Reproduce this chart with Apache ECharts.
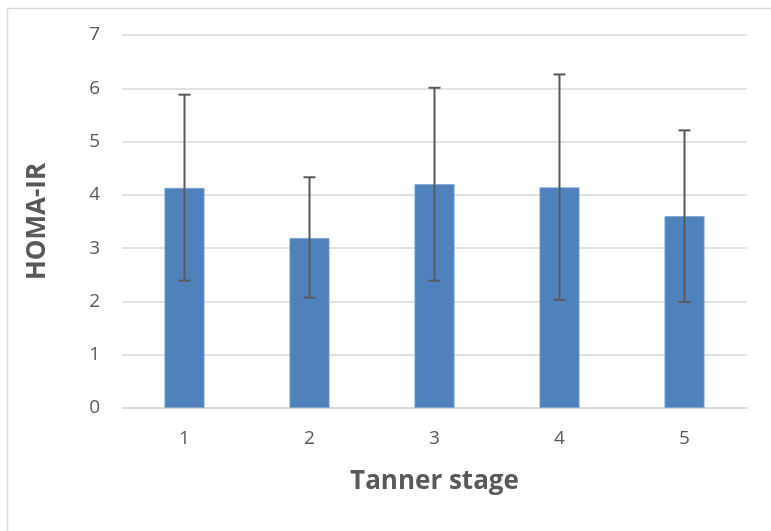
<!DOCTYPE html>
<html>
<head>
<meta charset="utf-8">
<script src="https://cdn.jsdelivr.net/npm/echarts@6/dist/echarts.min.js"></script>
<style>html,body{margin:0;padding:0;background:#fff}#c{width:771px;height:531px}</style>
</head>
<body>
<div id="c"></div>
<script>
var categories = ['1', '2', '3', '4', '5'];
var means = [4.13, 3.19, 4.20, 4.14, 3.60];
var errLow = [2.39, 2.07, 2.39, 2.03, 1.99];
var errHigh = [5.88, 4.33, 6.01, 6.26, 5.21];
var yTicks = [0, 1, 2, 3, 4, 5, 6, 7];

var chart = echarts.init(document.getElementById('c'), null, {renderer: 'canvas'});
var errData = categories.map(function (c, i) { return [i, errLow[i], errHigh[i]]; });
var font = '"Open Sans", "Liberation Sans", sans-serif';

chart.setOption({
  animation: false,
  graphic: [{
    type: 'rect', left: 5, top: 6, z: -10,
    shape: {width: 800, height: 600},
    style: {fill: 'none', stroke: '#d9d9d9', lineWidth: 1.5}
  }],
  grid: {left: 122, right: 24, top: 35, bottom: 123},
  xAxis: {
    type: 'category', data: categories,
    name: 'Tanner stage', nameLocation: 'middle', nameGap: 61,
    nameTextStyle: {fontFamily: font, fontSize: 26, fontWeight: 'bold', color: '#595959'},
    axisLine: {show: true, lineStyle: {color: '#d9d9d9', width: 1.5}},
    axisTick: {show: false},
    axisLabel: {fontFamily: font, fontSize: 19, color: '#595959', margin: 21}
  },
  yAxis: {
    type: 'value', min: 0, max: 7, interval: 1,
    name: 'HOMA-IR', nameLocation: 'middle', nameGap: 71, nameRotate: 90,
    nameTextStyle: {fontFamily: font, fontSize: 26, fontWeight: 'bold', color: '#595959'},
    axisLine: {show: false}, axisTick: {show: false},
    splitLine: {lineStyle: {color: '#d9d9d9', width: 1.5}},
    axisLabel: {fontFamily: font, fontSize: 19, color: '#595959', margin: 22,
      formatter: function (v) { return yTicks.indexOf(v) >= 0 ? String(v) : ''; }}
  },
  series: [{
    type: 'bar', data: means, barWidth: 40,
    itemStyle: {color: '#4f81bd', borderColor: '#7ea3d1', borderWidth: 0.8}
  }, {
    type: 'custom', data: errData, z: 10,
    renderItem: function (params, api) {
      var x = api.value(0);
      var lo = api.coord([x, api.value(1)]);
      var hi = api.coord([x, api.value(2)]);
      var hw = 6;
      var st = {stroke: '#595959', lineWidth: 2};
      return {type: 'group', children: [
        {type: 'line', shape: {x1: lo[0], y1: lo[1], x2: hi[0], y2: hi[1]}, style: st},
        {type: 'line', shape: {x1: lo[0]-hw, y1: lo[1], x2: lo[0]+hw, y2: lo[1]}, style: st},
        {type: 'line', shape: {x1: hi[0]-hw, y1: hi[1], x2: hi[0]+hw, y2: hi[1]}, style: st}
      ]};
    }
  }]
});
</script>
</body>
</html>
